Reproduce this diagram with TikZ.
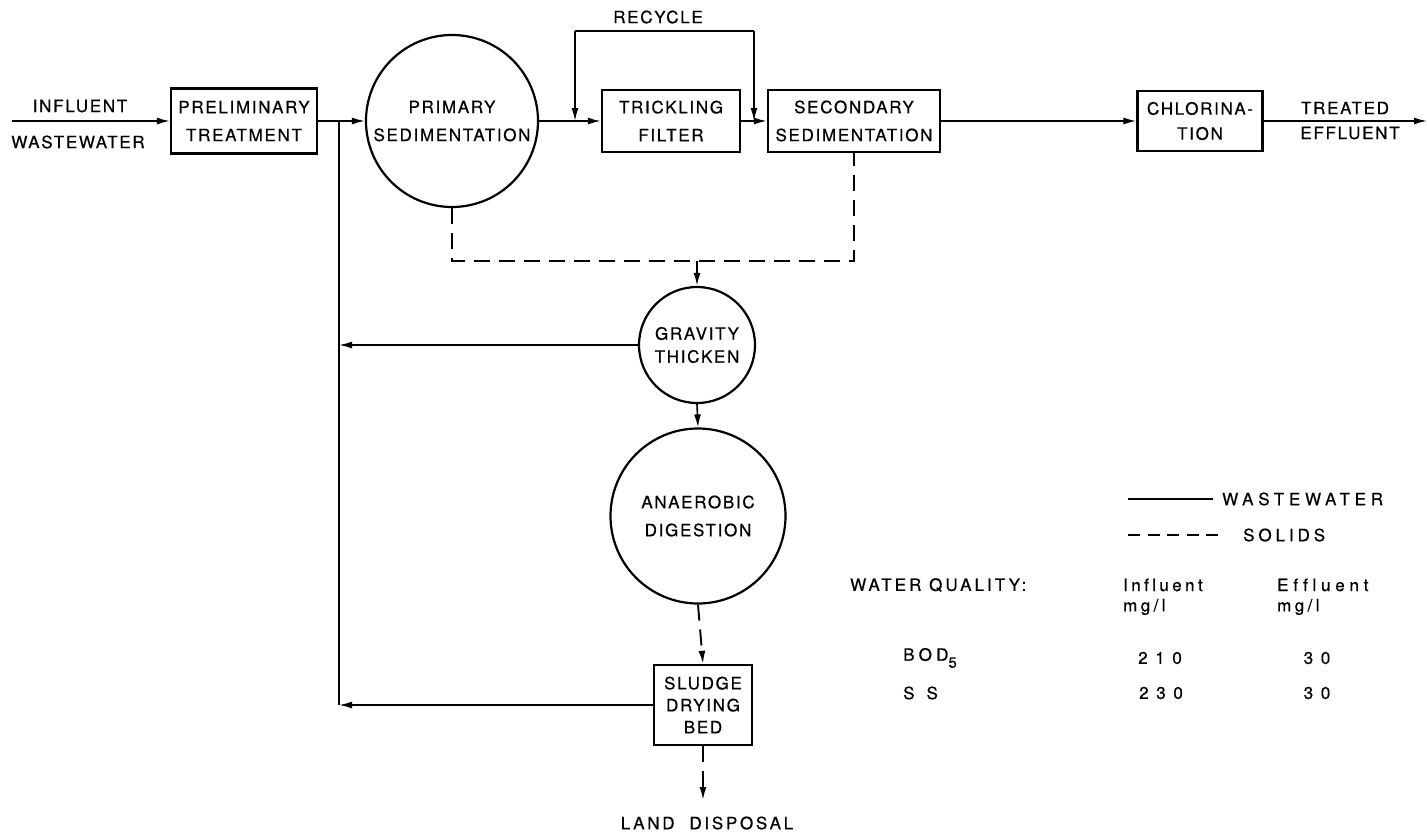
\documentclass[tikz,border=0pt]{standalone}
\usepackage{fontspec}
\setmainfont{TeX Gyre Heros}[LetterSpace=10, Ligatures=NoCommon, FakeBold=0.6]
\usetikzlibrary{arrows.meta}

% tracking for individual labels
\newcommand\trk[1]{\addfontfeatures{LetterSpace=#1}}

\tikzset{
  txt/.style={font=\fontsize{17}{28}\selectfont, inner sep=0pt, align=center},
  box/.style={txt, draw, line width=2.4pt},
  disc/.style={txt, draw, circle, line width=2.2pt},
  flow/.style={line width=1.6pt},
  solids/.style={line width=1.9pt, dash pattern=on 16pt off 9pt},
  tip/.style={-{Latex[length=13pt,width=7pt]}},
}

\begin{document}
\begin{tikzpicture}[x=1pt,y=-1pt]
\useasboundingbox (0,0) rectangle (1427,835);

% ---- process units ----
\node[box, minimum width=146pt, minimum height=65pt] (prelim) at (244,121) {PRELIMINARY\\TREATMENT};
\node[disc, minimum size=172pt] (primary) at (452,121) {PRIMARY\\SEDIMENTATION};
\node[box, minimum width=138pt, minimum height=62pt] (trick) at (671,121) {TRICKLING\\FILTER};
\node[box, minimum width=172pt, minimum height=62pt] (second) at (854,121) {SECONDARY\\SEDIMENTATION};
\node[box, minimum width=125pt, minimum height=60pt, font=\fontsize{17}{25}\selectfont] (chlor) at (1200,121) {CHLORINA-\\TION};
\node[disc, minimum size=116pt, font=\fontsize{17}{23}\selectfont] (gravity) at (697,345) {GRAVITY\\THICKEN};
\node[disc, minimum size=175pt] (anaer) at (698,516) {ANAEROBIC\\DIGESTION};
\node[box, minimum width=98pt, minimum height=80pt, font=\fontsize{17}{22}\selectfont] (sludge) at (703,705) {SLUDGE\\DRYING\\BED};

% ---- free labels ----
\node[txt] (inlab) at (80,106) {INFLUENT};
\node[txt] (inlab2) at (78,142) {WASTEWATER};
\node[txt] (recycle) at (658,17) {RECYCLE};
\node[txt] (treated) at (1345,108) {TREATED};
\node[txt] (treated2) at (1350,133) {EFFLUENT};
\node[txt, font=\fontsize{17}{28}\selectfont\trk{16}] (land) at (707,823) {LAND\ \ DISPOSAL};

% ---- junction points ----
\coordinate (src) at (12,121);
\coordinate (j1) at (339,121);
\coordinate (j2) at (339,345);
\coordinate (j3) at (339,705);
\coordinate (rcL) at (575,121);
\coordinate (rcR) at (754,121);
\coordinate (rcLt) at (575,31);
\coordinate (rcRt) at (754,31);
\coordinate (out) at (1427,121);
\coordinate (dj) at (697,261);
\coordinate (dr) at (854,261);
\coordinate (landpt) at (703,800);

% ---- wastewater line ----
\draw[flow, tip] (src) -- (prelim.west);
\draw[flow] (prelim.east) -- (j1);
\draw[flow, tip] (j1) -- (primary.west);
\draw[flow, tip] (primary.east) -- (trick.west);
\draw[flow] (trick.east) -- (rcR);
\draw[flow, tip] (rcR) -- (second.west);
\draw[flow, tip] (second.east) -- (chlor.west);
\draw[flow, tip] (chlor.east) -- (out);

% recycle loop
\draw[flow] (rcLt) -- (rcRt);
\draw[flow, tip] (rcLt) -- (rcL);
\draw[flow, tip] (rcRt) -- (rcR);

% return lines
\draw[flow] (j1) -- (j3);
\draw[flow, tip] (gravity.west) -- (j2);
\draw[flow, tip] (sludge.west) -- (j3);

% ---- solids line ----
\draw[solids] (primary.south) -- (primary.south |- dr) -- (dr) -- (second.south);
\draw[solids, tip] (dj) -- (gravity.north);
\draw[flow, tip] (gravity.south) -- (anaer.north);
\draw[solids, tip] (anaer.south) -- (sludge.north);
\draw[solids, tip] (sludge.south) -- (landpt);

% ---- legend ----
\coordinate (lw1) at (1128,499);
\coordinate (lw2) at (1213,499);
\coordinate (ls1) at (1128,535);
\coordinate (ls2) at (1218,535);
\draw[flow] (lw1) -- (lw2);
\draw[line width=1.9pt, dash pattern=on 12pt off 7.5pt] (ls1) -- (ls2);
\node[txt, anchor=west, font=\fontsize{17}{28}\selectfont\trk{28}] (legww) at (1222,499) {WASTEWATER};
\node[txt, anchor=west, font=\fontsize{17}{28}\selectfont\trk{23}] (legsol) at (1243,535) {SOLIDS};

% ---- water quality table ----
\node[txt, anchor=west, font=\fontsize{17}{28}\selectfont\trk{18}] (wq) at (850,585) {WATER QUALITY:};
\node[txt, anchor=west, font=\fontsize{17}{28}\selectfont\trk{20}] (colin) at (1123,585) {Influent};
\node[txt, anchor=west, font=\fontsize{17}{28}\selectfont\trk{20}] (colin2) at (1123,607) {mg/l};
\node[txt, anchor=west, font=\fontsize{17}{28}\selectfont\trk{28}] (colef) at (1277,585) {Effluent};
\node[txt, anchor=west, font=\fontsize{17}{28}\selectfont\trk{20}] (colef2) at (1277,607) {mg/l};
\node[txt, anchor=west, font=\fontsize{17}{28}\selectfont\trk{25}] (bod) at (903,658) {BOD\raisebox{-7pt}{\fontsize{15}{15}\selectfont 5}};
\node[txt, anchor=west] (ss) at (903,693) {S\kern12pt S};
\node[txt, font=\fontsize{17}{28}\selectfont\trk{45}] (bodin) at (1160,658) {210};
\node[txt, font=\fontsize{17}{28}\selectfont\trk{45}] (ssin) at (1161,693) {230};
\node[txt, font=\fontsize{17}{28}\selectfont\trk{45}] (bodef) at (1317,658) {30};
\node[txt, font=\fontsize{17}{28}\selectfont\trk{45}] (ssef) at (1317,693) {30};

\end{tikzpicture}
\end{document}
